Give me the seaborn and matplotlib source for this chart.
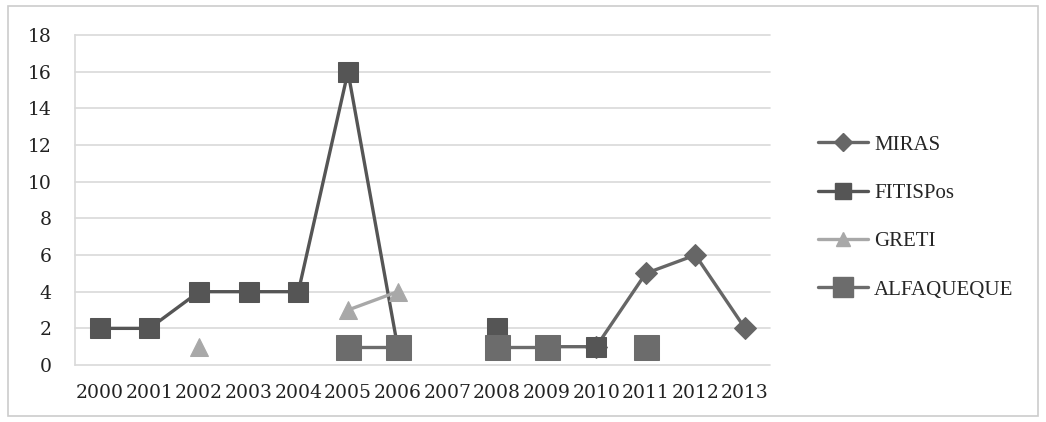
import numpy as np
import pandas as pd
import matplotlib
matplotlib.use("Agg")
import matplotlib.pyplot as plt
from matplotlib.lines import Line2D
from matplotlib.patches import Rectangle
import seaborn as sns

years = list(range(2000, 2014))
nan = np.nan
miras      = [nan, nan, nan, nan, nan, nan, nan, nan, nan, 1, 1, 5, 6, 2]
fitispos   = [2, 2, 4, 4, 4, 16, 1, nan, 2, nan, 1, nan, nan, nan]
greti      = [nan, nan, 1, nan, nan, 3, 4, nan, nan, nan, nan, nan, nan, nan]
alfaqueque = [nan, nan, nan, nan, nan, 1, 1, nan, 1, 1, nan, 1, nan, nan]
series_names = ["MIRAS", "FITISPos", "GRETI", "ALFAQUEQUE"]
y_ticks = list(range(0, 19, 2))

styles = {
    "MIRAS":      dict(color="#666666", marker="D", markersize=11),
    "FITISPos":   dict(color="#555555", marker="s", markersize=14),
    "GRETI":      dict(color="#a8a8a8", marker="^", markersize=13),
    "ALFAQUEQUE": dict(color="#6c6c6c", marker="s", markersize=18),
}

rows = []
for name, vals in zip(series_names, [miras, fitispos, greti, alfaqueque]):
    seg = 0
    prev_nan = True
    for yr, v in zip(years, vals):
        if np.isnan(v):
            prev_nan = True
            continue
        if prev_nan:
            seg += 1
        prev_nan = False
        rows.append(dict(series=name, year=yr, value=v, seg=seg))
df = pd.DataFrame(rows)

sns.set_style("white")
plt.rcParams["font.family"] = ["DejaVu Serif"]

fig = plt.figure(figsize=(10.46, 4.22), dpi=100)
ax = fig.add_axes([0.0717, 0.135, 0.6643, 0.782])

for y in y_ticks:
    ax.axhline(y, color="#d9d9d9", lw=1.2, zorder=0)

# each unbroken run of a series is its own line so gaps stay open
for name in series_names:
    st = styles[name]
    sub = df[df.series == name]
    for _, g in sub.groupby("seg"):
        sns.lineplot(data=g, x="year", y="value", ax=ax, color=st["color"],
                     marker=st["marker"], markersize=st["markersize"],
                     markeredgecolor=st["color"], linewidth=2.4,
                     estimator=None, legend=False)
for ln in ax.lines:
    ln.set_clip_on(False)

ax.set_xlim(1999.5, 2013.5)
ax.set_ylim(0, 18)
ax.set_xticks(years)
ax.set_xticklabels([str(y) for y in years])
ax.set_yticks(y_ticks)
ax.tick_params(axis="both", length=0, labelsize=13.5, colors="#222222")
ax.tick_params(axis="y", pad=17)
ax.tick_params(axis="x", pad=14)
ax.set_xlabel("")
ax.set_ylabel("")
for side in ["top", "right", "bottom"]:
    ax.spines[side].set_visible(False)
ax.spines["left"].set_color("#d9d9d9")
ax.spines["left"].set_linewidth(1.2)

handles = [Line2D([0], [0], color=styles[n]["color"], lw=2.4,
                  marker=styles[n]["marker"],
                  markersize=styles[n]["markersize"] * 0.8,
                  markeredgecolor=styles[n]["color"]) for n in series_names]
fig.legend(handles, series_names, loc="center left",
           bbox_to_anchor=(0.782, 0.485), bbox_transform=fig.transFigure,
           frameon=False, handlelength=2.4, handletextpad=0.3,
           labelspacing=1.38, borderpad=0, borderaxespad=0,
           prop={"family": "Liberation Serif", "size": 15})

fig.patches.append(Rectangle((8 / 1046, 1 - 416 / 422), 1030 / 1046, 410 / 422,
                             transform=fig.transFigure, fill=False,
                             edgecolor="#cccccc", lw=1.2))

fig.savefig("out.png", dpi=100, facecolor="white")
